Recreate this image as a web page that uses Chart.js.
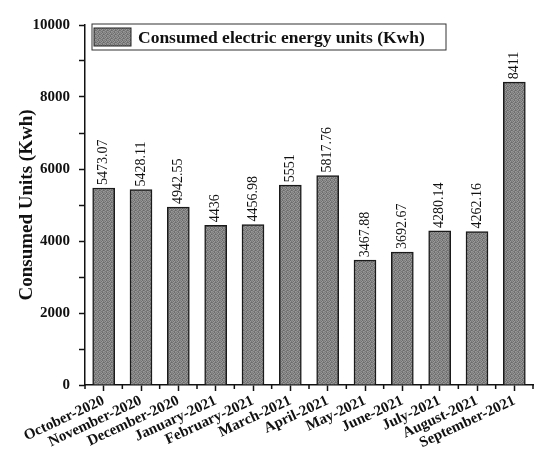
<!DOCTYPE html>
<html>
<head>
<meta charset="utf-8">
<title>Consumed electric energy units</title>
<script src="https://cdn.jsdelivr.net/npm/chart.js@4.4.1/dist/chart.umd.min.js"></script>
<style>
  html, body { margin: 0; padding: 0; background: #fff; }
  #chart { display: block; }
</style>
</head>
<body>
<canvas id="chart" width="535" height="455"></canvas>
<script>
// chart data
const months = ["October-2020", "November-2020", "December-2020", "January-2021", "February-2021", "March-2021",
  "April-2021", "May-2021", "June-2021", "July-2021", "August-2021", "September-2021"];
const consumed = [5473.07, 5428.11, 4942.55, 4436, 4456.98, 5551, 5817.76, 3467.88, 3692.67, 4280.14, 4262.16, 8411];
const valueLabels = ["5473.07", "5428.11", "4942.55", "4436", "4456.98", "5551", "5817.76", "3467.88", "3692.67", "4280.14", "4262.16", "8411"];
const yTickLabels = [0, 2000, 4000, 6000, 8000, 10000];
const seriesName = "Consumed electric energy units (Kwh)";

const serif = "'Liberation Serif', 'Times New Roman', serif";

// small grey texture for the bars, like the scanned print
function makeTexture() {
  const c = document.createElement("canvas");
  c.width = 4; c.height = 4;
  const g = c.getContext("2d");
  const shades = ["#7e7e7e", "#969696", "#6c6c6c", "#8a8a8a",
                  "#909090", "#707070", "#9c9c9c", "#7a7a7a",
                  "#767676", "#989898", "#848484", "#6a6a6a",
                  "#8e8e8e", "#7c7c7c", "#747474", "#9a9a9a"];
  for (let i = 0; i < 16; i++) {
    g.fillStyle = shades[i];
    g.fillRect(i % 4, Math.floor(i / 4), 1, 1);
  }
  return g.createPattern(c, "repeat");
}
const texture = makeTexture();

// value labels above the bars, minor x ticks, legend box
const extras = {
  id: "extras",
  afterDatasetsDraw(chart) {
    const ctx = chart.ctx;
    const meta = chart.getDatasetMeta(0);
    ctx.save();
    ctx.fillStyle = "#111";
    ctx.font = "14px " + serif;
    ctx.textAlign = "left";
    ctx.textBaseline = "middle";
    meta.data.forEach((bar, i) => {
      ctx.save();
      ctx.translate(bar.x, bar.y - 3);
      ctx.rotate(-Math.PI / 2);
      ctx.fillText(valueLabels[i], 0, 0);
      ctx.restore();
    });
    ctx.restore();
  },
  afterDraw(chart) {
    const ctx = chart.ctx;
    const x = chart.scales.x;
    const area = chart.chartArea;
    ctx.save();
    ctx.strokeStyle = "#111";
    ctx.lineWidth = 1.5;
    // minor ticks between categories
    ctx.beginPath();
    for (let i = 0; i <= months.length; i++) {
      const px = x.getPixelForValue(i - 0.5);
      ctx.moveTo(px, area.bottom);
      ctx.lineTo(px, area.bottom + 4);
    }
    ctx.stroke();

    // legend box
    const bx = 92, by = 24, bw = 354, bh = 26;
    ctx.lineWidth = 1;
    ctx.strokeStyle = "#333";
    ctx.strokeRect(bx, by, bw, bh);
    ctx.fillStyle = texture;
    ctx.fillRect(bx + 2, by + 4, 37, 18);
    ctx.strokeStyle = "#222";
    ctx.strokeRect(bx + 2, by + 4, 37, 18);
    ctx.fillStyle = "#111";
    ctx.font = "bold 17.5px " + serif;
    ctx.textAlign = "left";
    ctx.textBaseline = "middle";
    ctx.fillText(chart.data.datasets[0].label, bx + 46, by + bh / 2 + 1);
    ctx.restore();
  }
};

new Chart(document.getElementById("chart"), {
  type: "bar",
  data: {
    labels: months,
    datasets: [{
      label: seriesName,
      data: consumed,
      backgroundColor: texture,
      borderColor: "#1a1a1a",
      borderWidth: 1.5,
      barThickness: 22
    }]
  },
  options: {
    responsive: false,
    animation: false,
    devicePixelRatio: 1,
    layout: { padding: { top: 25, right: 2, left: 0, bottom: 0 } },
    plugins: {
      legend: { display: false },
      tooltip: { enabled: false }
    },
    scales: {
      x: {
        offset: true,
        grid: {
          display: true,
          offset: false,
          drawOnChartArea: false,
          tickLength: 6,
          tickWidth: 1.5,
          color: "#111"
        },
        border: { display: true, color: "#111", width: 1.5 },
        ticks: {
          color: "#111",
          font: { family: serif, size: 15, weight: "bold" },
          minRotation: 25,
          maxRotation: 25,
          autoSkip: false,
          padding: 1
        },
        afterFit(scale) { scale.height = 70; }
      },
      y: {
        min: 0,
        max: 10000,
        ticks: {
          stepSize: 1000,
          color: "#111",
          font: { family: serif, size: 15, weight: "bold" },
          padding: 9,
          callback: (v) => yTickLabels.includes(v) ? String(v) : ""
        },
        grid: {
          display: true,
          drawOnChartArea: false,
          tickLength: 6,
          tickWidth: 1.5,
          color: "#111"
        },
        border: { display: true, color: "#111", width: 1.5 },
        title: {
          display: true,
          text: "Consumed Units (Kwh)",
          color: "#111",
          font: { family: serif, size: 19, weight: "bold" },
          padding: { top: 16, bottom: 0 }
        },
        afterFit(scale) { scale.width = 85; }
      }
    }
  },
  plugins: [extras]
});
</script>
</body>
</html>
